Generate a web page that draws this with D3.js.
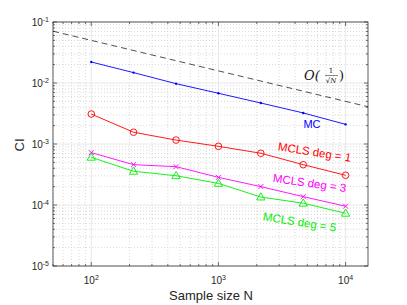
<!DOCTYPE html>
<html><head><meta charset="utf-8">
<script src="https://cdn.jsdelivr.net/npm/d3@7"></script>
<style>
body{margin:0;background:#fff;}
svg{display:block;font-family:"Liberation Sans",Arial,Helvetica,sans-serif;}
</style></head>
<body>
<svg id="c" width="407" height="305"></svg>
<script>
const sampleN = [100, 215, 464, 1000, 2154, 4642, 10000];
const mcVals   = [0.0221, 0.0148, 0.00975, 0.00678, 0.0047, 0.00323, 0.0021];
const deg1Vals = [0.0031, 0.00156, 0.00116, 0.000916, 0.000705, 0.000458, 0.000307];
const deg3Vals = [0.000722, 0.000458, 0.000425, 0.000284, 0.0002, 0.000137, 0.0000955];
const deg5Vals = [0.000605, 0.000357, 0.000302, 0.000226, 0.000135, 0.000107, 0.0000731];
const refN = [50, 15000];
const refVals = [0.0707, 0.00408];
const xTicks = [100, 1000, 10000];
const xTickExp = ["2", "3", "4"];
const yTicks = [1e-1, 1e-2, 1e-3, 1e-4, 1e-5];
const yTickExp = ["-1", "-2", "-3", "-4", "-5"];

const svg = d3.select("#c");
const L = 53, R = 368, T = 22, B = 266;
const x = d3.scaleLog().domain([50, 15000]).range([L, R]);
const y = d3.scaleLog().domain([1e-5, 1e-1]).range([B, T]);

// minor grid
const xMinor = [], yMinor = [];
for (let e = 1; e <= 4; e++) for (let k = 2; k <= 9; k++) { const v = k * Math.pow(10, e); if (v >= 50 && v <= 15000) xMinor.push(v); }
for (let e = -5; e <= -2; e++) for (let k = 2; k <= 9; k++) yMinor.push(k * Math.pow(10, e));
const g = svg.append("g");
g.selectAll(".xm").data(xMinor).join("line").attr("x1", d => x(d)).attr("x2", d => x(d)).attr("y1", T).attr("y2", B)
  .attr("stroke", "#c8c8c8").attr("stroke-width", 0.7).attr("stroke-dasharray", "1,2");
g.selectAll(".ym").data(yMinor).join("line").attr("y1", d => y(d)).attr("y2", d => y(d)).attr("x1", L).attr("x2", R)
  .attr("stroke", "#c8c8c8").attr("stroke-width", 0.7).attr("stroke-dasharray", "1,2");
g.selectAll(".xM").data(xTicks).join("line").attr("x1", d => x(d)).attr("x2", d => x(d)).attr("y1", T).attr("y2", B)
  .attr("stroke", "#e2e2e2").attr("stroke-width", 0.8);
g.selectAll(".yM").data(yTicks).join("line").attr("y1", d => y(d)).attr("y2", d => y(d)).attr("x1", L).attr("x2", R)
  .attr("stroke", "#e2e2e2").attr("stroke-width", 0.8);

// box & ticks
const axC = "#333";
svg.append("rect").attr("x", L).attr("y", T).attr("width", R - L).attr("height", B - T).attr("fill", "none").attr("stroke", axC).attr("stroke-width", 0.8);
const tk = svg.append("g").attr("stroke", axC).attr("stroke-width", 0.7);
xTicks.forEach(v => { tk.append("line").attr("x1", x(v)).attr("x2", x(v)).attr("y1", B).attr("y2", B - 4);
  tk.append("line").attr("x1", x(v)).attr("x2", x(v)).attr("y1", T).attr("y2", T + 4); });
xMinor.forEach(v => { tk.append("line").attr("x1", x(v)).attr("x2", x(v)).attr("y1", B).attr("y2", B - 2);
  tk.append("line").attr("x1", x(v)).attr("x2", x(v)).attr("y1", T).attr("y2", T + 2); });
yTicks.forEach(v => { tk.append("line").attr("y1", y(v)).attr("y2", y(v)).attr("x1", L).attr("x2", L + 4);
  tk.append("line").attr("y1", y(v)).attr("y2", y(v)).attr("x1", R).attr("x2", R - 4); });
yMinor.forEach(v => { tk.append("line").attr("y1", y(v)).attr("y2", y(v)).attr("x1", L).attr("x2", L + 2);
  tk.append("line").attr("y1", y(v)).attr("y2", y(v)).attr("x1", R).attr("x2", R - 2); });

// tick labels
xTicks.forEach((v, i) => {
  const t = svg.append("text").attr("x", x(v)).attr("y", 284).attr("text-anchor", "middle").attr("font-size", 10).attr("fill", "#262626");
  t.append("tspan").text("10");
  t.append("tspan").attr("dy", -4).attr("font-size", 7).text(xTickExp[i]);
});
yTicks.forEach((v, i) => {
  const t = svg.append("text").attr("x", 49).attr("y", y(v) + 4).attr("text-anchor", "end").attr("font-size", 10).attr("fill", "#262626");
  t.append("tspan").text("10");
  t.append("tspan").attr("dy", -4).attr("font-size", 7).text(yTickExp[i]);
});

// axis labels
svg.append("text").attr("x", 211).attr("y", 300).attr("text-anchor", "middle").attr("font-size", 13).attr("fill", "#262626").text("Sample size N");
svg.append("text").attr("transform", "translate(24,145) rotate(-90)").attr("text-anchor", "middle").attr("font-size", 13).attr("fill", "#262626").text("CI");

// reference dashed line
const line = d3.line().x(d => x(d[0])).y(d => y(d[1]));
svg.append("path").datum(d3.zip(refN, refVals)).attr("d", line).attr("fill", "none").attr("stroke", "#222").attr("stroke-width", 0.8).attr("stroke-dasharray", "6,4");

// series
function series(vals, color) {
  svg.append("path").datum(d3.zip(sampleN, vals)).attr("d", line).attr("fill", "none").attr("stroke", color).attr("stroke-width", 0.9);
}
series(mcVals, "#0000ff");
series(deg1Vals, "#ff0000");
series(deg3Vals, "#ff00ff");
series(deg5Vals, "#00ee00");

svg.selectAll(".mc").data(d3.zip(sampleN, mcVals)).join("circle").attr("cx", d => x(d[0])).attr("cy", d => y(d[1])).attr("r", 1.2).attr("fill", "#0000ff");
svg.selectAll(".d1").data(d3.zip(sampleN, deg1Vals)).join("circle").attr("cx", d => x(d[0])).attr("cy", d => y(d[1])).attr("r", 3.3)
  .attr("fill", "none").attr("stroke", "#ff0000").attr("stroke-width", 0.9);
const cross = d3.symbol().type(d3.symbolX).size(18);
svg.selectAll(".d3").data(d3.zip(sampleN, deg3Vals)).join("path").attr("transform", d => `translate(${x(d[0])},${y(d[1])})`).attr("d", cross)
  .attr("fill", "none").attr("stroke", "#ff00ff").attr("stroke-width", 0.9);
const tri = d3.symbol().type(d3.symbolTriangle).size(30);
svg.selectAll(".d5").data(d3.zip(sampleN, deg5Vals)).join("path").attr("transform", d => `translate(${x(d[0])},${y(d[1]) + 0.5})`).attr("d", tri)
  .attr("fill", "none").attr("stroke", "#00ee00").attr("stroke-width", 0.9);

// annotations
svg.append("text").attr("x", 312).attr("y", 128).attr("text-anchor", "middle").attr("font-size", 11).attr("fill", "#0000ff").text("MC");
function rlabel(txt, cx, cy, ang, color) {
  svg.append("text").attr("transform", `translate(${cx},${cy}) rotate(${ang})`).attr("text-anchor", "middle").attr("font-size", 11.5).attr("fill", color).text(txt);
}
rlabel("MCLS deg = 1", 314, 156, 9, "#ff0000");
rlabel("MCLS deg = 3", 309, 187, 8, "#ff00ff");
rlabel("MCLS deg = 5", 299, 226, 9, "#00ee00");

// O(1/sqrt N)
const oc = svg.append("g").attr("font-family", "'DejaVu Serif','Liberation Serif',serif").attr("fill", "#111");
oc.append("text").attr("x", 304).attr("y", 80).attr("font-size", 13).attr("font-style", "italic").text("O(");
oc.append("text").attr("x", 331).attr("y", 73).attr("font-size", 7).attr("text-anchor", "middle").text("1");
oc.append("line").attr("x1", 325).attr("x2", 338).attr("y1", 75.5).attr("y2", 75.5).attr("stroke", "#111").attr("stroke-width", 0.5);
oc.append("text").attr("x", 331).attr("y", 83).attr("font-size", 7).attr("text-anchor", "middle").attr("font-style", "italic").text("\u221AN");
oc.append("text").attr("x", 339).attr("y", 80).attr("font-size", 13).text(")");
</script>
</body></html>
